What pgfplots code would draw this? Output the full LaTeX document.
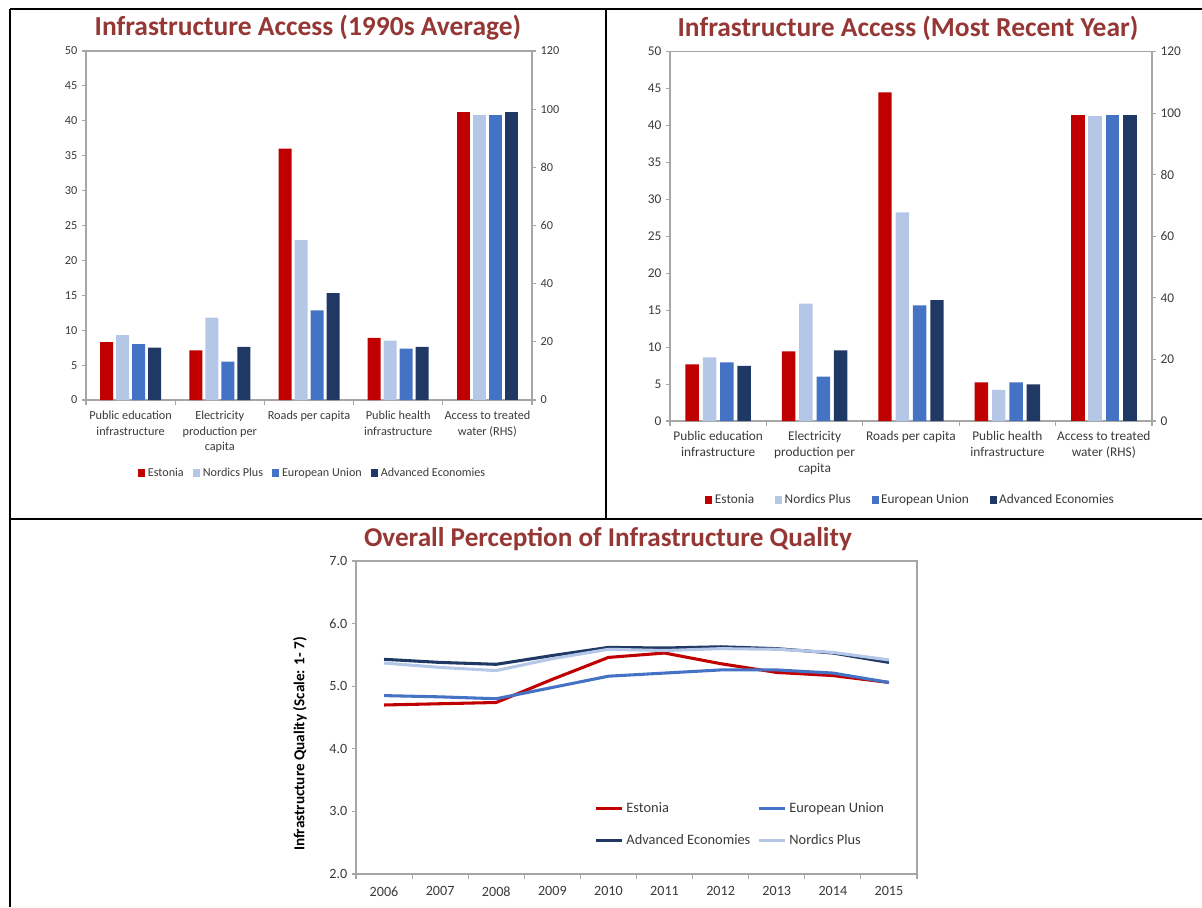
\documentclass[border=0pt]{standalone}
\usepackage{fontspec}
\setmainfont{Carlito}
\usepackage{pgfplots}
\pgfplotsset{compat=1.18}
\definecolor{cEst}{HTML}{C00000}
\definecolor{cNor}{HTML}{B4C7E7}
\definecolor{cEU}{HTML}{4472C4}
\definecolor{cAdv}{HTML}{203864}
\definecolor{ttl}{HTML}{953735}
\definecolor{axg}{HTML}{A6A6A6}
\definecolor{txt}{HTML}{3A3A3A}
\pgfplotsset{
  sq/.style={legend image code/.code={\fill[##1] (0pt,-3pt) rectangle (5.25pt,3pt);}},
  ln/.style={legend image code/.code={\draw[##1, line width=2.25pt] (0pt,0pt) -- (20pt,0pt);}},
  base/.style={
    scale only axis, anchor=south west,
    axis line style={axg, line width=0.8pt},
    tick style={axg, line width=0.8pt},
    tick align=outside,
    major tick length=3pt, minor tick length=4pt,
    /pgf/number format/assume math mode=true,
    tick label style={text=txt},
  },
  barbase/.style={base, xmin=-0.5, xmax=4.5, ymin=0},
}
\begin{document}
\begin{tikzpicture}
\path[use as bounding box] (0pt,0pt) rectangle (901.5pt,-680.25pt);
% panel borders
\draw[line width=1.3pt] (7.5pt,-6.75pt) -- (901.5pt,-6.75pt);
\draw[line width=1.3pt] (7.5pt,-6.75pt) -- (7.5pt,-680.25pt);
\draw[line width=1.3pt] (454.5pt,-6.75pt) -- (454.5pt,-389.25pt);
\draw[line width=1.3pt] (7.5pt,-389.25pt) -- (901.5pt,-389.25pt);

% ===== Top-left =====
\node[font=\bfseries\fontsize{20.6}{24}\selectfont, text=ttl] at (231pt,-21pt) {Infrastructure Access (1990s Average)};
\begin{axis}[barbase, at={(64.5pt,-300pt)}, width=334.5pt, height=261.75pt,
  ymax=50, ytick={0,5,...,50}, ytick pos=left,
  xtick={0,1,2,3,4}, xtick pos=bottom, major x tick style={draw=none},
  minor xtick={-0.5,0.5,1.5,2.5,3.5,4.5},
  xticklabels={{Public education\\infrastructure},{Electricity\\production per\\capita},{Roads per capita},{Public health\\infrastructure},{Access to treated\\water (RHS)}},
  xticklabel style={align=center, font=\fontsize{9.2}{11.6}\selectfont, yshift=-2pt},
  yticklabel style={font=\fontsize{9.2}{11}\selectfont},
  ybar=2.25pt, bar width=9.75pt,
  legend columns=4,
  legend style={draw=none, fill=none, at={(0.1166,-0.209)}, anchor=west, inner sep=0pt,
    font=\fontsize{9.1}{11}\selectfont, text=txt,
    /tikz/every even column/.append style={column sep=5pt}},
  legend cell align=left,
]
\addplot[fill=cEst, draw=none, sq] coordinates {(0,8.3) (1,7.1) (2,36.0) (3,8.9)};
\addplot[fill=cNor, draw=none, sq] coordinates {(0,9.3) (1,11.8) (2,22.9) (3,8.5)};
\addplot[fill=cEU, draw=none, sq] coordinates {(0,8.0) (1,5.5) (2,12.85) (3,7.35)};
\addplot[fill=cAdv, draw=none, sq] coordinates {(0,7.5) (1,7.6) (2,15.3) (3,7.6)};
\legend{Estonia, Nordics Plus, European Union, Advanced Economies}
\end{axis}
\begin{axis}[barbase, at={(64.5pt,-300pt)}, width=334.5pt, height=261.75pt,
  ymax=120, ytick={0,20,...,120}, ytick pos=right, hide x axis,
  yticklabel style={font=\fontsize{9.2}{11}\selectfont},
  ybar=2.25pt, bar width=9.75pt,
]
\addplot[fill=cEst, draw=none] coordinates {(4,99.0)};
\addplot[fill=cNor, draw=none] coordinates {(4,98.0)};
\addplot[fill=cEU, draw=none] coordinates {(4,98.0)};
\addplot[fill=cAdv, draw=none] coordinates {(4,99.0)};
\end{axis}

% ===== Top-right =====
\node[font=\bfseries\fontsize{20.6}{24}\selectfont, text=ttl] at (681pt,-21pt) {Infrastructure Access (Most Recent Year)};
\begin{axis}[barbase, at={(502.5pt,-315.75pt)}, width=361.5pt, height=277pt,
  ymax=50, ytick={0,5,...,50}, ytick pos=left,
  xtick={0,1,2,3,4}, xtick pos=bottom, major x tick style={draw=none},
  minor xtick={-0.5,0.5,1.5,2.5,3.5,4.5},
  xticklabels={{Public education\\infrastructure},{Electricity\\production per\\capita},{Roads per capita},{Public health\\infrastructure},{Access to treated\\water (RHS)}},
  xticklabel style={align=center, font=\fontsize{10}{12}\selectfont, yshift=-1pt},
  yticklabel style={font=\fontsize{10}{12}\selectfont},
  ybar=2.9pt, bar width=10.1pt,
  legend columns=4,
  legend style={draw=none, fill=none, at={(0.0726,-0.213)}, anchor=west, inner sep=0pt,
    font=\fontsize{10}{12}\selectfont, text=txt,
    /tikz/every even column/.append style={column sep=13.5pt}},
  legend cell align=left,
]
\addplot[fill=cEst, draw=none, sq] coordinates {(0,7.67) (1,9.43) (2,44.5) (3,5.23)};
\addplot[fill=cNor, draw=none, sq] coordinates {(0,8.6) (1,15.9) (2,28.25) (3,4.2)};
\addplot[fill=cEU, draw=none, sq] coordinates {(0,7.94) (1,6.0) (2,15.66) (3,5.23)};
\addplot[fill=cAdv, draw=none, sq] coordinates {(0,7.45) (1,9.57) (2,16.38) (3,4.96)};
\legend{Estonia, Nordics Plus, European Union, Advanced Economies}
\end{axis}
\begin{axis}[barbase, at={(502.5pt,-315.75pt)}, width=361.5pt, height=277pt,
  ymax=120, ytick={0,20,...,120}, ytick pos=right, hide x axis,
  yticklabel style={font=\fontsize{10}{12}\selectfont},
  ybar=2.9pt, bar width=10.1pt,
]
\addplot[fill=cEst, draw=none] coordinates {(4,99.4)};
\addplot[fill=cNor, draw=none] coordinates {(4,99.1)};
\addplot[fill=cEU, draw=none] coordinates {(4,99.4)};
\addplot[fill=cAdv, draw=none] coordinates {(4,99.4)};
\end{axis}

% ===== Bottom =====
\node[font=\bfseries\fontsize{20.4}{24}\selectfont, text=ttl] at (456pt,-404.25pt) {Overall Perception of Infrastructure Quality};
\node[rotate=90, font=\bfseries\fontsize{11.4}{13}\selectfont, text=black] at (225pt,-558pt) {Infrastructure Quality (Scale: 1- 7)};
\begin{axis}[base, at={(267pt,-655.5pt)}, width=420.75pt, height=234.75pt,
  xmin=2005.5, xmax=2015.5, ymin=2, ymax=7,
  ytick={2,3,4,5,6,7}, ytick pos=left,
  yticklabel style={/pgf/number format/.cd, fixed, fixed zerofill, precision=1, /tikz/.cd, font=\fontsize{10.6}{12}\selectfont},
  xtick={2006,2007,2008,2009,2010,2011,2012,2013,2014,2015}, xtick pos=bottom,
  major x tick style={draw=none},
  minor xtick={2005.5,2006.5,2007.5,2008.5,2009.5,2010.5,2011.5,2012.5,2013.5,2014.5,2015.5},
  xticklabel style={/pgf/number format/1000 sep={}, font=\fontsize{10.6}{12}\selectfont, yshift=-3pt},
  legend columns=2,
  legend style={draw=none, fill=none, at={(0.424,0.157)}, anchor=west, inner sep=0pt,
    font=\fontsize{10.8}{13}\selectfont, text=txt, row sep=11pt,
    /tikz/every even column/.append style={column sep=3pt}},
  legend cell align=left,
]
\addplot[cEst, line width=2.3pt, ln] coordinates {(2006,4.70) (2007,4.72) (2008,4.74) (2009,5.11) (2010,5.46) (2011,5.53) (2012,5.36) (2013,5.22) (2014,5.17) (2015,5.06)};
\addplot[cEU, line width=2.3pt, ln] coordinates {(2006,4.85) (2007,4.83) (2008,4.80) (2009,4.98) (2010,5.16) (2011,5.21) (2012,5.26) (2013,5.26) (2014,5.21) (2015,5.06)};
\addplot[cAdv, line width=2.3pt, ln] coordinates {(2006,5.43) (2007,5.38) (2008,5.35) (2009,5.49) (2010,5.62) (2011,5.61) (2012,5.63) (2013,5.60) (2014,5.53) (2015,5.38)};
\addplot[cNor, line width=2.3pt, ln] coordinates {(2006,5.37) (2007,5.30) (2008,5.25) (2009,5.44) (2010,5.59) (2011,5.57) (2012,5.60) (2013,5.59) (2014,5.54) (2015,5.42)};
\legend{Estonia, European Union, Advanced Economies, Nordics Plus}
\end{axis}
\end{tikzpicture}
\end{document}
